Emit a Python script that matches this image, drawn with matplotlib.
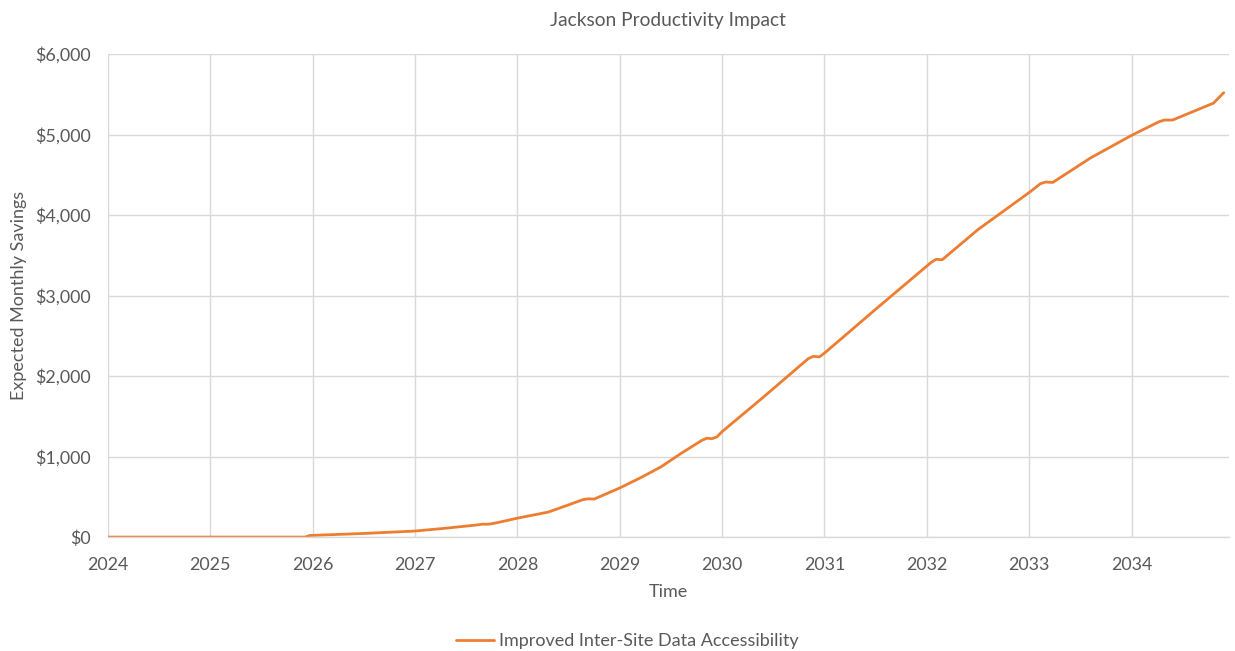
import matplotlib.pyplot as plt
from matplotlib.ticker import FuncFormatter

plt.rcParams["font.family"] = ["Lato", "DejaVu Sans"]

TITLE = "Jackson Productivity Impact"
SERIES_NAME = "Improved Inter-Site Data Accessibility"

# decimal year -> expected monthly savings ($)
years = [
    2024.0, 2025.0, 2025.93, 2025.97, 2026.5, 2027.0, 2027.3, 2027.6, 2027.66,
    2027.72, 2027.8, 2028.0, 2028.3, 2028.5, 2028.64, 2028.69, 2028.75,
    2029.0, 2029.2, 2029.4, 2029.6, 2029.8, 2029.85, 2029.9, 2029.95,
    2030.0, 2030.4, 2030.84, 2030.89, 2030.95, 2031.0, 2031.5, 2032.04,
    2032.09, 2032.15, 2032.5, 2033.0, 2033.11, 2033.16, 2033.23, 2033.6,
    2034.0, 2034.27, 2034.32, 2034.4, 2034.8, 2034.9,
]
savings = [
    0, 0, 0, 20, 45, 75, 110, 150, 160,
    160, 178, 235, 310, 400, 465, 475, 472,
    610, 735, 870, 1040, 1200, 1228, 1222, 1245,
    1310, 1735, 2215, 2245, 2238, 2285, 2830, 3410,
    3450, 3445, 3820, 4280, 4390, 4410, 4405, 4710,
    4990, 5160, 5180, 5180, 5390, 5520,
]
x_ticks = list(range(2024, 2035))
y_ticks = [0, 1000, 2000, 3000, 4000, 5000, 6000]

TEXT = "#595959"
GRID = "#D9D9D9"
ORANGE = "#ED7D31"

fig = plt.figure(figsize=(12.35, 6.51), dpi=100)
ax = fig.add_axes([0.0874, 0.175, 0.9076, 0.742])

line, = ax.plot(years, savings, color=ORANGE, lw=2.0, solid_capstyle="round",
                solid_joinstyle="round")

ax.set_xlim(2024, 2034.95)
ax.set_ylim(0, 6000)
ax.set_xticks(x_ticks)
ax.set_yticks(y_ticks)
ax.yaxis.set_major_formatter(FuncFormatter(lambda v, p: f"${v:,.0f}"))
ax.grid(True, color=GRID, lw=1)
ax.set_axisbelow(True)
for side in ["top", "right", "left"]:
    ax.spines[side].set_visible(False)
ax.spines["bottom"].set_color(GRID)
ax.spines["bottom"].set_linewidth(1)
ax.tick_params(axis="both", length=0, labelcolor=TEXT, labelsize=12.9)
ax.tick_params(axis="x", pad=14)
ax.tick_params(axis="y", pad=12)

ax.set_title(TITLE, color=TEXT, fontsize=13.8, pad=20)
ax.set_xlabel("Time", color=TEXT, fontsize=13, labelpad=8)
ax.set_ylabel("Expected Monthly Savings", color=TEXT, fontsize=13, labelpad=6)

fig.legend([line], [SERIES_NAME], loc="center", bbox_to_anchor=(0.508, 0.015),
           frameon=False, fontsize=13, labelcolor=TEXT, handlelength=2.1,
           handletextpad=0.3)

fig.savefig("out.png", dpi=100, facecolor="white")
